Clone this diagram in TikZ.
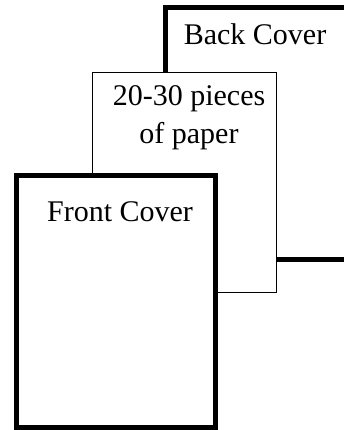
\documentclass[tikz,border=0pt]{standalone}
\usepackage{fontspec}
\setmainfont{Liberation Serif}

\begin{document}
\begin{tikzpicture}[
    x=1pt, y=1pt,
    cover/.style={rectangle, draw, line width=5pt, fill=white, inner sep=0pt, outer sep=0pt},
    sheet/.style={rectangle, draw, line width=0.8pt, fill=white, inner sep=0pt, outer sep=0pt},
    caption/.style={font=\fontsize{30}{38}\selectfont, align=center, inner sep=0pt}
]
    \clip (0,0) rectangle (344,430);

    % Back Cover
    \node[cover, minimum width=200, minimum height=252.5] (back) at (265,296.25) {};
    \node[caption, anchor=base] (backtext) at (255,385) {Back Cover};

    % Paper
    \node[sheet, minimum width=184, minimum height=220] (paper) at (184,248) {};
    \node[caption, anchor=north] (papertext) at (189,345) {20-30 pieces\\of paper};

    % Front Cover
    \node[cover, minimum width=199, minimum height=252] (front) at (116,128.5) {};
    \node[caption, anchor=base] (fronttext) at (120,208) {Front Cover};
\end{tikzpicture}
\end{document}
